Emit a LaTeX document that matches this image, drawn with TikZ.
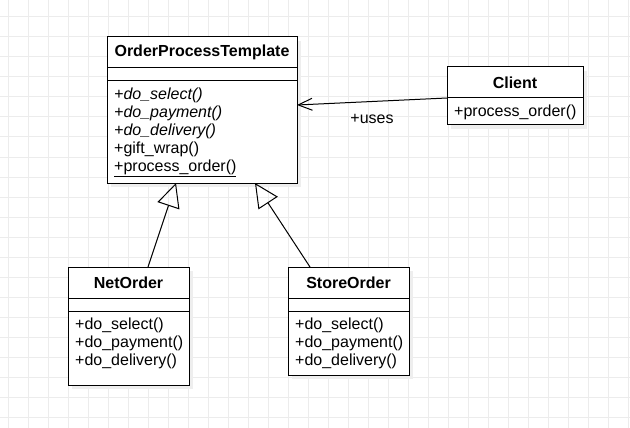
\documentclass[tikz,border=0pt]{standalone}
\usepackage{fontspec}
\setmainfont{Liberation Sans}
\usepackage{tikz}
\usetikzlibrary{
  arrows.meta,
  positioning,
  shadows
}
\usepackage{xcolor}
\definecolor{gridGray}{RGB}{236,236,236}
\definecolor{shadowGray}{RGB}{238,238,238}
\newcommand{\umlsize}{\fontsize{16}{18}\selectfont}
\tikzset{
  classpart/.style={
    draw,
    line width=1pt,
    fill=white,
    inner sep=0pt,
    outer sep=0pt,
    anchor=north,
    drop shadow={shadow xshift=4pt, shadow yshift=-4pt, fill=shadowGray, opacity=1}
  },
  classhead/.style={classpart, font=\umlsize\bfseries, minimum height=31pt},
  classattr/.style={classpart, minimum height=13pt},
  classops/.style={classpart},
  methods/.style={
    anchor=north west,
    align=left,
    inner xsep=7pt,
    inner ysep=6.5pt,
    font=\umlsize
  }
}
\begin{document}
\begin{tikzpicture}[
      x=1pt, y=-1pt,
      uses/.style={-{Straight Barb[length=14pt,width=12pt]}, line width=1pt},
      inherits/.style={-{Triangle[open,length=24pt,width=23pt]}, line width=1pt}
      ]
      \fill[white] (0,0) rectangle (630,428);
      \useasboundingbox (0,0) rectangle (630,428);

      % background grid
      \foreach \x in {8,28,...,628}
        \draw[gridGray, line width=1pt] (\x,0) -- (\x,428);
      \foreach \y in {17,37,...,417}
        \draw[gridGray, line width=1pt] (0,\y) -- (630,\y);

      % template class
      \node[classhead, minimum width=190pt] (opt-head) at (202,37) {OrderProcessTemplate};
      \node[classattr, minimum width=190pt, below=0pt of opt-head] (opt-attr) {};
      \node[classops, minimum width=190pt, minimum height=102pt, below=0pt of opt-attr] (opt-ops) {};
      \node[methods] (opt-txt) at (opt-ops.north west)
        {\textit{+do\_select()}\\\textit{+do\_payment()}\\\textit{+do\_delivery()}\\+gift\_wrap()\\\underline{+process\_order()}};

      % client
      \node[classhead, minimum width=136pt] (client-head) at (515,67) {Client};
      \node[classops, minimum width=136pt, minimum height=27pt, below=0pt of client-head] (client-ops) {};
      \node[methods] (client-txt) at (client-ops.north west) {+process\_order()};

      % concrete orders
      \foreach \cls/\title/\cx/\h in {net/NetOrder/128.5/74, store/StoreOrder/348.5/64}{
        \node[classhead, minimum width=121pt] (\cls-head) at (\cx,267) {\title};
        \node[classattr, minimum width=121pt, below=0pt of \cls-head] (\cls-attr) {};
        \node[classops, minimum width=121pt, minimum height=\h pt, below=0pt of \cls-attr] (\cls-ops) {};
        \node[methods] (\cls-txt) at (\cls-ops.north west) {+do\_select()\\+do\_payment()\\+do\_delivery()};
      }

      \draw[uses] (client-head.south west) -- ([yshift=-24pt]opt-ops.north east)
        node[midway, below=12pt, inner sep=0pt, font=\umlsize] (uses-lbl) {+uses};

      \draw[inherits] ([xshift=19.5pt]net-head.north) -- ([xshift=-26pt]opt-ops.south);
      \draw[inherits] ([xshift=-38.5pt]store-head.north) -- ([xshift=53pt]opt-ops.south);
    \end{tikzpicture}
\end{document}
